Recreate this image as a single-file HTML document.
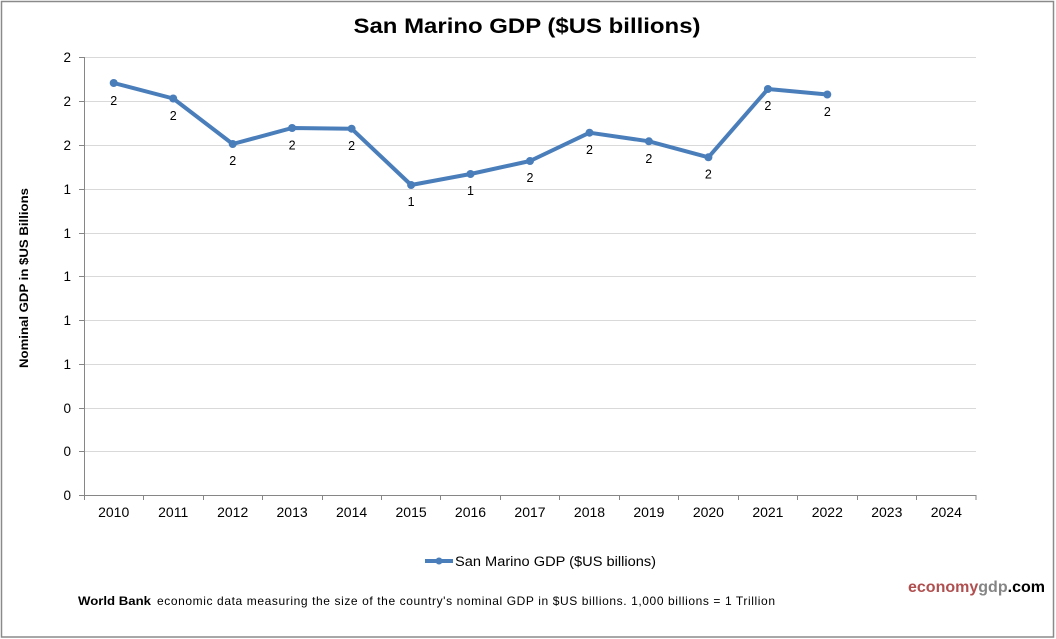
<!DOCTYPE html>
<html><head><meta charset="utf-8"><style>
html,body{margin:0;padding:0;background:#fff;}
svg{display:block;font-family:"Liberation Sans",Arial,sans-serif;}
</style></head><body>
<svg width="1056" height="639" viewBox="0 0 1056 639" xmlns="http://www.w3.org/2000/svg">
<rect x="0" y="0" width="1056" height="639" fill="#fff"/>
<rect x="1.5" y="1.5" width="1052" height="635.5" fill="none" stroke="#8a8a8a" stroke-width="1.5"/>
<text x="527" y="33" text-anchor="middle" font-size="21" font-weight="bold" fill="#000" textLength="347" lengthAdjust="spacingAndGlyphs">San Marino GDP ($US billions)</text>
<g stroke="#d9d9d9" stroke-width="1">
<line x1="84" y1="57.5" x2="976" y2="57.5"/>
<line x1="84" y1="101.5" x2="976" y2="101.5"/>
<line x1="84" y1="145.5" x2="976" y2="145.5"/>
<line x1="84" y1="189.5" x2="976" y2="189.5"/>
<line x1="84" y1="233.5" x2="976" y2="233.5"/>
<line x1="84" y1="276.5" x2="976" y2="276.5"/>
<line x1="84" y1="320.5" x2="976" y2="320.5"/>
<line x1="84" y1="364.5" x2="976" y2="364.5"/>
<line x1="84" y1="408.5" x2="976" y2="408.5"/>
<line x1="84" y1="451.5" x2="976" y2="451.5"/>
</g>
<g stroke="#868686" stroke-width="1">
<line x1="84.5" y1="57" x2="84.5" y2="495.5"/>
<line x1="84" y1="495.5" x2="976.5" y2="495.5"/>
<line x1="79" y1="57.5" x2="84" y2="57.5"/>
<line x1="79" y1="101.5" x2="84" y2="101.5"/>
<line x1="79" y1="145.5" x2="84" y2="145.5"/>
<line x1="79" y1="189.5" x2="84" y2="189.5"/>
<line x1="79" y1="233.5" x2="84" y2="233.5"/>
<line x1="79" y1="276.5" x2="84" y2="276.5"/>
<line x1="79" y1="320.5" x2="84" y2="320.5"/>
<line x1="79" y1="364.5" x2="84" y2="364.5"/>
<line x1="79" y1="408.5" x2="84" y2="408.5"/>
<line x1="79" y1="451.5" x2="84" y2="451.5"/>
<line x1="79" y1="495.5" x2="84" y2="495.5"/>
<line x1="84.5" y1="495" x2="84.5" y2="500"/>
<line x1="143.5" y1="495" x2="143.5" y2="500"/>
<line x1="203.5" y1="495" x2="203.5" y2="500"/>
<line x1="262.5" y1="495" x2="262.5" y2="500"/>
<line x1="322.5" y1="495" x2="322.5" y2="500"/>
<line x1="381.5" y1="495" x2="381.5" y2="500"/>
<line x1="440.5" y1="495" x2="440.5" y2="500"/>
<line x1="500.5" y1="495" x2="500.5" y2="500"/>
<line x1="559.5" y1="495" x2="559.5" y2="500"/>
<line x1="619.5" y1="495" x2="619.5" y2="500"/>
<line x1="678.5" y1="495" x2="678.5" y2="500"/>
<line x1="738.5" y1="495" x2="738.5" y2="500"/>
<line x1="797.5" y1="495" x2="797.5" y2="500"/>
<line x1="857.5" y1="495" x2="857.5" y2="500"/>
<line x1="916.5" y1="495" x2="916.5" y2="500"/>
<line x1="976" y1="495" x2="976" y2="500"/>
</g>
<g font-size="13.5" fill="#000" text-anchor="end">
<text x="71" y="62">2</text>
<text x="71" y="106">2</text>
<text x="71" y="150">2</text>
<text x="71" y="194">1</text>
<text x="71" y="238">1</text>
<text x="71" y="281">1</text>
<text x="71" y="325">1</text>
<text x="71" y="369">1</text>
<text x="71" y="413">0</text>
<text x="71" y="456">0</text>
<text x="71" y="500">0</text>
</g>
<text transform="translate(28,278) rotate(-90)" text-anchor="middle" font-size="12" font-weight="bold" fill="#000" textLength="180" lengthAdjust="spacingAndGlyphs">Nominal GDP in $US Billions</text>
<g font-size="14" fill="#000" text-anchor="middle">
<text x="113.7" y="517">2010</text>
<text x="173.2" y="517">2011</text>
<text x="232.7" y="517">2012</text>
<text x="292.1" y="517">2013</text>
<text x="351.6" y="517">2014</text>
<text x="411.1" y="517">2015</text>
<text x="470.5" y="517">2016</text>
<text x="530" y="517">2017</text>
<text x="589.5" y="517">2018</text>
<text x="648.9" y="517">2019</text>
<text x="708.4" y="517">2020</text>
<text x="767.9" y="517">2021</text>
<text x="827.3" y="517">2022</text>
<text x="886.8" y="517">2023</text>
<text x="946.3" y="517">2024</text>
</g>
<polyline fill="none" stroke="#4a7ebb" stroke-width="4" stroke-linejoin="round" points="113.7,83 173.2,98.5 232.7,144 292.1,128 351.6,128.7 411.1,185 470.5,174 530,161 589.5,132.7 648.9,141.3 708.4,157.3 767.9,89 827.3,94.5"/>
<g fill="#4a7ebb">
<circle cx="113.7" cy="83" r="4"/>
<circle cx="173.2" cy="98.5" r="4"/>
<circle cx="232.7" cy="144" r="4"/>
<circle cx="292.1" cy="128" r="4"/>
<circle cx="351.6" cy="128.7" r="4"/>
<circle cx="411.1" cy="185" r="4"/>
<circle cx="470.5" cy="174" r="4"/>
<circle cx="530" cy="161" r="4"/>
<circle cx="589.5" cy="132.7" r="4"/>
<circle cx="648.9" cy="141.3" r="4"/>
<circle cx="708.4" cy="157.3" r="4"/>
<circle cx="767.9" cy="89" r="4"/>
<circle cx="827.3" cy="94.5" r="4"/>
</g>
<g font-size="12.5" fill="#000" text-anchor="middle">
<text x="113.7" y="105">2</text>
<text x="173.2" y="120">2</text>
<text x="232.7" y="165">2</text>
<text x="292.1" y="149.5">2</text>
<text x="351.6" y="150">2</text>
<text x="411.1" y="206">1</text>
<text x="470.5" y="195">1</text>
<text x="530" y="182">2</text>
<text x="589.5" y="154">2</text>
<text x="648.9" y="163">2</text>
<text x="708.4" y="178.5">2</text>
<text x="767.9" y="110">2</text>
<text x="827.3" y="116">2</text>
</g>
<line x1="425" y1="561" x2="453" y2="561" stroke="#4a7ebb" stroke-width="4"/>
<circle cx="439" cy="561" r="3.5" fill="#4a7ebb"/>
<text x="455" y="566" font-size="13.5" fill="#000" textLength="201" lengthAdjust="spacingAndGlyphs">San Marino GDP ($US billions)</text>
<text x="78" y="605" font-size="12" font-weight="bold" fill="#000" textLength="73" lengthAdjust="spacingAndGlyphs">World Bank</text>
<text x="157" y="605" font-size="12" fill="#000" textLength="618" lengthAdjust="spacing">economic data  measuring the size of the country's nominal GDP in $US billions. 1,000 billions = 1 Trillion</text>
<text x="908" y="592" font-size="15.5" font-weight="bold" textLength="137" lengthAdjust="spacingAndGlyphs"><tspan fill="#b04f4f">economy</tspan><tspan fill="#858585">gdp</tspan><tspan fill="#000">.com</tspan></text>
</svg>
</body></html>
